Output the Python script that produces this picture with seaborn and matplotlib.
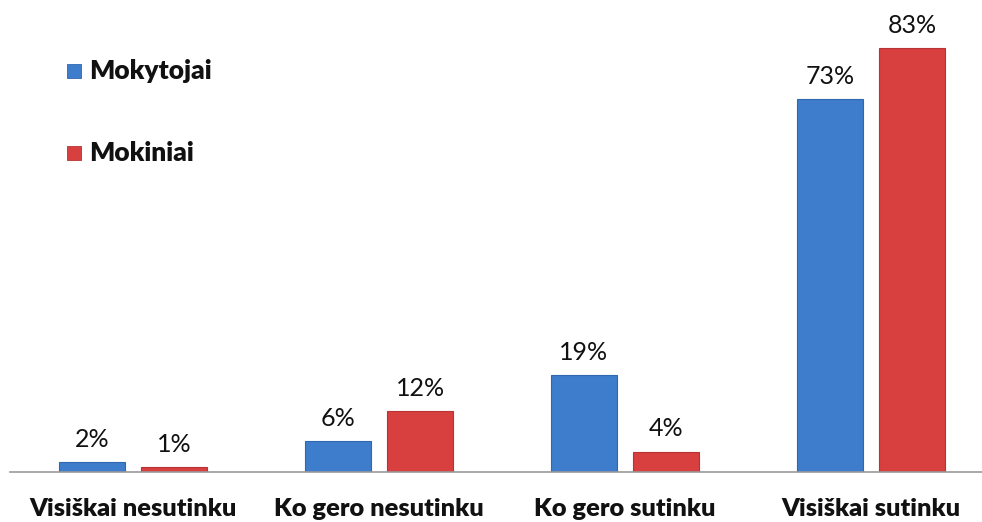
import matplotlib
matplotlib.use("Agg")
import matplotlib.pyplot as plt
import seaborn as sns
import pandas as pd

categories = ["Visiškai nesutinku", "Ko gero nesutinku", "Ko gero sutinku", "Visiškai sutinku"]
series_names = ["Mokytojai", "Mokiniai"]
mokytojai = [2, 6, 19, 73]
mokiniai = [1, 12, 4, 83]
colors = ["#3E7DCB", "#D83F3F"]

df = pd.DataFrame({
    "cat": categories * 2,
    "val": mokytojai + mokiniai,
    "grp": [series_names[0]] * 4 + [series_names[1]] * 4,
})

sns.set_theme(style="white")
plt.rcParams['font.family'] = ['Lato', 'DejaVu Sans']

fig = plt.figure(figsize=(9.82, 5.22), dpi=100)
ax = fig.add_axes([10/982, (522-472)/522, 984/982, 460/522])

sns.barplot(data=df, x="cat", y="val", hue="grp", palette=colors, ax=ax,
            width=0.667, gap=0.2, legend=False, saturation=1)

edge = ["#2F68B0", "#B83333"]
for i, cont in enumerate(ax.containers):
    for p in cont.patches:
        p.set_edgecolor(edge[i])
        p.set_linewidth(0.8)
    ax.bar_label(cont, labels=[f"{v:.0f}%" for v in cont.datavalues], padding=8,
                 fontsize=18, color="#111111")

ax.set_xlim(-0.5, 3.5)
ax.set_ylim(0, 90)
ax.set_xlabel("")
ax.set_ylabel("")
ax.set_yticks([])
ax.tick_params(axis="x", length=0, pad=19)
for lab in ax.get_xticklabels():
    lab.set_fontsize(18.3)
    lab.set_fontweight("heavy")
    lab.set_color("#111111")
for s in ["top", "right", "left"]:
    ax.spines[s].set_visible(False)
ax.spines["bottom"].set_color("#999999")
ax.spines["bottom"].set_linewidth(1.2)

# legend
for k, (name, c) in enumerate(zip(series_names, colors)):
    y = 71 + k * 82
    fig.patches.append(plt.Rectangle((67/982, 1 - (y + 7)/522), 14/982, 14/522,
                                     transform=fig.transFigure, facecolor=c,
                                     edgecolor=edge[k], linewidth=0.6, figure=fig))
    fig.text(89/982, 1 - y/522, name, fontsize=19, fontweight="heavy",
             va="center", ha="left", color="#111111")

fig.savefig("out.png", dpi=100)
